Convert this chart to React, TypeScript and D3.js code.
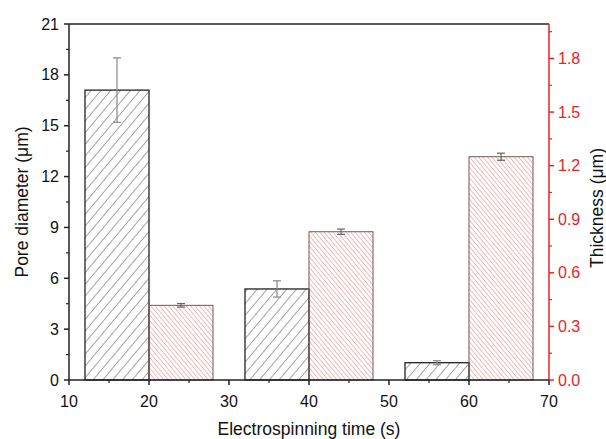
import React from "react";
import * as d3 from "d3";

const times = [12, 32, 52];
const poreDiameter = [17.1, 5.37, 1.02];
const poreErr = [1.9, 0.48, 0.12];
const thickTimes = [20, 40, 60];
const thickness = [0.418, 0.83, 1.25];
const thickErr = [0.01, 0.015, 0.02];
const barWidth = 8;
const xTicks = [10, 20, 30, 40, 50, 60, 70];
const yLeftTicks = [0, 3, 6, 9, 12, 15, 18, 21];
const yRightTicks = [0.0, 0.3, 0.6, 0.9, 1.2, 1.5, 1.8];

const W = 606, H = 439;
const m = { left: 69, right: 549, top: 24, bottom: 380 };
const FONT = "'Liberation Sans', Arial, sans-serif";
const RED = "#e8242a";

export default function App() {
  const x = d3.scaleLinear().domain([10, 70]).range([m.left, m.right]);
  const yL = d3.scaleLinear().domain([0, 21]).range([m.bottom, m.top]);
  const yR = d3.scaleLinear().domain([0, 1.993]).range([m.bottom, m.top]);
  const minorX = d3.range(15, 70, 10);
  const minorL = d3.range(1.5, 21, 3);
  const minorR = d3.range(0.15, 1.99, 0.3);
  return (
    <svg width={W} height={H} style={{ position: "absolute", left: 0, top: 0, background: "#fff" }}>
      <defs>
        <pattern id="hatchBlack" patternUnits="userSpaceOnUse" width="7.5" height="8" patternTransform="rotate(40)">
          <line x1="0" y1="0" x2="0" y2="8" stroke="#333" strokeWidth="0.9" />
        </pattern>
        <pattern id="hatchRed" patternUnits="userSpaceOnUse" width="3.4" height="8" patternTransform="rotate(-40)">
          <line x1="0" y1="0" x2="0" y2="8" stroke="#e46a6a" strokeWidth="0.9" />
        </pattern>
      </defs>
      <rect x={0} y={0} width={W} height={H} fill="#fff" />
      {times.map((t, i) => (
        <rect key={"b" + i} x={x(t)} y={yL(poreDiameter[i])} width={x(t + barWidth) - x(t)}
          height={yL(0) - yL(poreDiameter[i])} fill="url(#hatchBlack)" stroke="#222" strokeWidth={1.3} />
      ))}
      {thickTimes.map((t, i) => (
        <rect key={"r" + i} x={x(t)} y={yR(thickness[i])} width={x(t + barWidth) - x(t)}
          height={yR(0) - yR(thickness[i])} fill="url(#hatchRed)" stroke="#6a5a5a" strokeWidth={1} />
      ))}
      {times.map((t, i) => {
        const cx = x(t + barWidth / 2);
        const y1 = yL(poreDiameter[i] + poreErr[i]);
        const y2 = yL(poreDiameter[i] - poreErr[i]);
        return (
          <g key={"e" + i} stroke="#888" strokeWidth={1.2}>
            <line x1={cx} x2={cx} y1={y1} y2={y2} />
            <line x1={cx - 4} x2={cx + 4} y1={y1} y2={y1} />
            <line x1={cx - 4} x2={cx + 4} y1={y2} y2={y2} />
          </g>
        );
      })}
      {thickTimes.map((t, i) => {
        const cx = x(t + barWidth / 2);
        const y1 = yR(thickness[i] + thickErr[i]);
        const y2 = yR(thickness[i] - thickErr[i]);
        return (
          <g key={"te" + i} stroke="#666" strokeWidth={1.2}>
            <line x1={cx} x2={cx} y1={y1} y2={y2} />
            <line x1={cx - 4} x2={cx + 4} y1={y1} y2={y1} />
            <line x1={cx - 4} x2={cx + 4} y1={y2} y2={y2} />
          </g>
        );
      })}
      <line x1={m.left} x2={m.right} y1={m.top} y2={m.top} stroke="#222" strokeWidth={1.5} />
      <line x1={m.left} x2={m.right} y1={m.bottom} y2={m.bottom} stroke="#222" strokeWidth={1.5} />
      <line x1={m.left} x2={m.left} y1={m.top} y2={m.bottom} stroke="#222" strokeWidth={1.5} />
      <line x1={m.right} x2={m.right} y1={m.top} y2={m.bottom} stroke={RED} strokeWidth={1.5} />
      {xTicks.map((v) => (
        <g key={"xt" + v}>
          <line x1={x(v)} x2={x(v)} y1={m.bottom} y2={m.bottom + 5} stroke="#222" strokeWidth={1.5} />
          <text x={x(v)} y={m.bottom + 27} textAnchor="middle" fontFamily={FONT} fontSize={16} fill="#111">{v}</text>
        </g>
      ))}
      {minorX.map((v) => (
        <line key={"xm" + v} x1={x(v)} x2={x(v)} y1={m.bottom} y2={m.bottom + 3} stroke="#222" strokeWidth={1.2} />
      ))}
      {yLeftTicks.map((v) => (
        <g key={"yl" + v}>
          <line x1={m.left - 5} x2={m.left} y1={yL(v)} y2={yL(v)} stroke="#222" strokeWidth={1.5} />
          <text x={m.left - 10} y={yL(v) + 5.5} textAnchor="end" fontFamily={FONT} fontSize={16} fill="#111">{v}</text>
        </g>
      ))}
      {minorL.map((v) => (
        <line key={"ylm" + v} x1={m.left - 3} x2={m.left} y1={yL(v)} y2={yL(v)} stroke="#222" strokeWidth={1.2} />
      ))}
      {yRightTicks.map((v) => (
        <g key={"yr" + v}>
          <line x1={m.right} x2={m.right + 5} y1={yR(v)} y2={yR(v)} stroke={RED} strokeWidth={1.5} />
          <text x={m.right + 9} y={yR(v) + 5.5} textAnchor="start" fontFamily={FONT} fontSize={16} fill={RED}>{v.toFixed(1)}</text>
        </g>
      ))}
      {minorR.map((v) => (
        <line key={"yrm" + v} x1={m.right} x2={m.right + 3} y1={yR(v)} y2={yR(v)} stroke={RED} strokeWidth={1.2} />
      ))}
      <text x={(m.left + m.right) / 2 + 0} y={435} textAnchor="middle" fontFamily={FONT} fontSize={17.5} fill="#111">Electrospinning time (s)</text>
      <text transform={`translate(28,${(m.top + m.bottom) / 2}) rotate(-90)`} textAnchor="middle" fontFamily={FONT} fontSize={17.5} fill="#111">Pore diameter (μm)</text>
      <text transform={`translate(603,${(m.top + m.bottom) / 2 + 6}) rotate(-90)`} textAnchor="middle" fontFamily={FONT} fontSize={17.5} fill="#111">Thickness (μm)</text>
    </svg>
  );
}
